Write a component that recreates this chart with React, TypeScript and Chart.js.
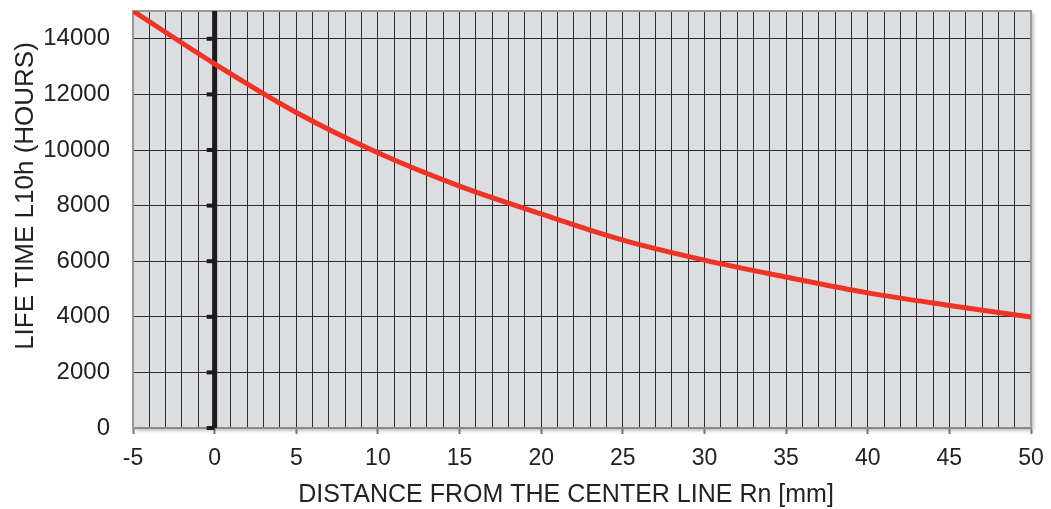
import React, { useEffect, useRef } from "react";
import { Chart, registerables } from "chart.js";

Chart.register(...registerables);

// Data
const distanceMm = [-5, 0, 5, 10, 15, 20, 25, 30, 35, 40, 45, 50];
const lifeHours = [15000, 13100, 11350, 9900, 8700, 7700, 6760, 6040, 5430, 4860, 4410, 3990];

const xMin = -5;
const xMax = 50;
const xLabelEvery = 5;
const yMin = 0;
const yMax = 15000;
const yTickValues = [0, 2000, 4000, 6000, 8000, 10000, 12000, 14000];

const xTitle = "DISTANCE FROM THE CENTER LINE Rn [mm]";
const yTitle = "LIFE TIME L10h (HOURS)";

const FONT = "'Liberation Sans', Arial, Helvetica, sans-serif";

const plotDecor = {
  id: "plotDecor",
  beforeDraw(chart: any) {
    const { ctx, chartArea: a } = chart;
    ctx.save();
    ctx.shadowColor = "rgba(0,0,0,0.35)";
    ctx.shadowBlur = 4;
    ctx.shadowOffsetX = 2;
    ctx.shadowOffsetY = 2;
    ctx.fillStyle = "#dcdde0";
    ctx.fillRect(a.left, a.top, a.right - a.left, a.bottom - a.top);
    ctx.restore();
  },
  beforeDatasetsDraw(chart: any) {
    const { ctx, chartArea: a, scales } = chart;
    const x0 = scales.x.getPixelForValue(0);
    ctx.save();
    ctx.strokeStyle = "#9a9a9a";
    ctx.lineWidth = 2;
    ctx.beginPath();
    ctx.moveTo(a.left, a.top);
    ctx.lineTo(a.right, a.top);
    ctx.lineTo(a.right, a.bottom);
    ctx.stroke();
    ctx.fillStyle = "#1b1b1b";
    ctx.fillRect(x0 - 2.5, a.top, 5, a.bottom - a.top);
    for (const v of yTickValues) {
      const y = scales.y.getPixelForValue(v);
      ctx.fillRect(x0 - 8, y - 2, 8, 4);
    }
    ctx.restore();
  },
  afterDraw(chart: any) {
    const { ctx } = chart;
    ctx.save();
    ctx.fillStyle = "#222";
    ctx.textAlign = "center";
    ctx.textBaseline = "middle";
    ctx.font = `25px ${FONT}`;
    ctx.fillText(xTitle, 566, 495);
    ctx.translate(26, 196);
    ctx.rotate(-Math.PI / 2);
    ctx.font = `26px ${FONT}`;
    ctx.fillText(yTitle, 0, 0);
    ctx.restore();
  },
};

export default function App() {
  const ref = useRef<HTMLCanvasElement | null>(null);

  useEffect(() => {
    document.body.style.margin = "0";
    const canvas = ref.current;
    if (!canvas) return;
    const chart = new Chart(canvas, {
      type: "line",
      data: {
        datasets: [
          {
            data: distanceMm.map((x, i) => ({ x, y: lifeHours[i] })),
            borderColor: "#ee3327",
            borderWidth: 5,
            pointRadius: 0,
            cubicInterpolationMode: "monotone",
            fill: false,
          },
        ],
      },
      options: {
        animation: false,
        responsive: false,
        devicePixelRatio: 1,
        layout: { padding: { left: 0, right: 20, top: 11, bottom: 0 } },
        plugins: { legend: { display: false }, tooltip: { enabled: false } },
        scales: {
          x: {
            type: "linear",
            min: xMin,
            max: xMax,
            afterFit(scale: any) {
              scale.height = 81;
              scale.paddingLeft = 0;
              scale.paddingRight = 0;
            },
            ticks: {
              stepSize: 1,
              autoSkip: false,
              maxRotation: 0,
              color: "#222",
              padding: 11,
              font: { family: FONT, size: 23 },
              callback: (v: any) => (Number(v) % xLabelEvery === 0 ? String(v) : ""),
            },
            grid: {
              color: "#2c2c2c",
              lineWidth: 1,
              drawTicks: true,
              tickLength: 6,
              tickWidth: 2,
              tickColor: (c: any) =>
                c.tick && Number(c.tick.value) % xLabelEvery === 0 ? "#777" : "rgba(0,0,0,0)",
            },
            border: { color: "#8a8a8a", width: 2 },
            title: { display: false },
          },
          y: {
            type: "linear",
            min: yMin,
            max: yMax,
            afterFit(scale: any) {
              scale.width = 133;
              scale.paddingTop = 0;
              scale.paddingBottom = 0;
            },
            afterBuildTicks(scale: any) {
              scale.ticks = yTickValues.map((v) => ({ value: v }));
            },
            ticks: {
              color: "#222",
              padding: 23,
              font: { family: FONT, size: 24 },
              callback: (v: any) => String(v),
            },
            grid: {
              color: "#2c2c2c",
              lineWidth: 1,
              drawTicks: false,
            },
            border: { color: "#9a9a9a", width: 2 },
            title: { display: false },
          },
        },
      },
      plugins: [plotDecor],
    } as any);
    return () => chart.destroy();
  }, []);

  return (
    <div style={{ width: 1051, height: 509, position: "relative", background: "#fff" }}>
      <canvas ref={ref} width={1051} height={509} style={{ display: "block" }} />
    </div>
  );
}
